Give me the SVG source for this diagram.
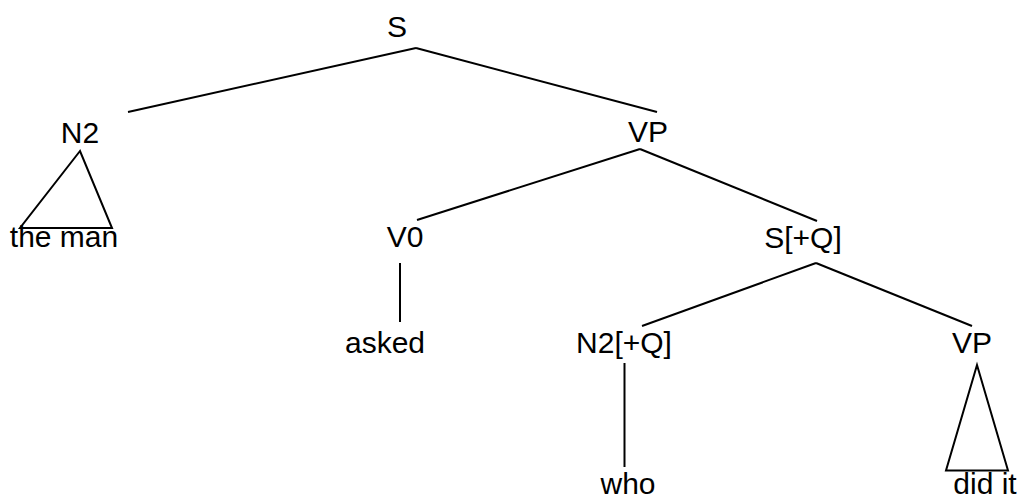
<svg xmlns="http://www.w3.org/2000/svg" width="1020" height="495" viewBox="0 0 1020 495">
<style>
text{font-family:"Liberation Sans",Arial,sans-serif;font-size:30px;fill:#000;text-anchor:middle}
.l{stroke:#000;stroke-width:2;fill:none}
</style>
<rect width="1020" height="495" fill="#fff"/>
<g id="connectors">
<line class="l" x1="416" y1="48" x2="128" y2="112"/>
<line class="l" x1="416" y1="48" x2="657" y2="112"/>
<line class="l" x1="640" y1="149" x2="417" y2="220"/>
<line class="l" x1="640" y1="149" x2="817" y2="221"/>
<line class="l" x1="400" y1="263" x2="400" y2="322"/>
<line class="l" x1="816" y1="263" x2="642" y2="326"/>
<line class="l" x1="816" y1="263" x2="972" y2="326"/>
<line class="l" x1="624.5" y1="363" x2="624.5" y2="467"/>
<polygon class="l" points="80,151 20,228 112,228"/>
<polygon class="l" points="977,365 946,470.5 1008,470.5"/>
</g>
<g id="n-S"><text x="397" y="37">S</text></g>
<g id="n-N2"><text x="80" y="143">N2</text></g>
<g id="n-theman"><text x="64" y="247">the man</text></g>
<g id="n-VP"><text x="648" y="142">VP</text></g>
<g id="n-V0"><text x="405" y="247">V0</text></g>
<g id="n-asked"><text x="385" y="353">asked</text></g>
<g id="n-SQ"><text x="803" y="248">S[+Q]</text></g>
<g id="n-N2Q"><text x="624" y="353">N2[+Q]</text></g>
<g id="n-VP2"><text x="972" y="353">VP</text></g>
<g id="n-who"><text x="628" y="494">who</text></g>
<g id="n-didit"><text x="985" y="494">did it</text></g>
</svg>
